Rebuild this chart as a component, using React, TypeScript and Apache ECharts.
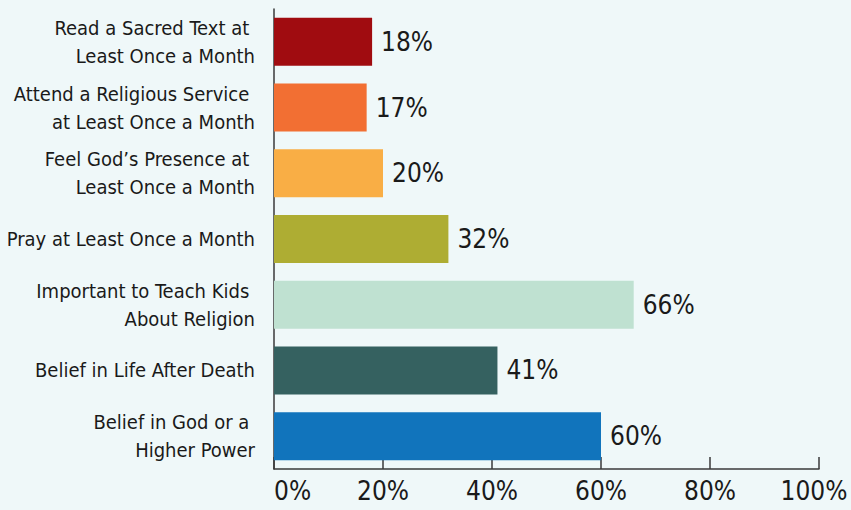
import React, { useEffect, useRef } from "react";
import * as echarts from "echarts";

const categories = [
  "Belief in God or a \nHigher Power",
  "Belief in Life After Death",
  "Important to Teach Kids \nAbout Religion",
  "Pray at Least Once a Month",
  "Feel God’s Presence at \nLeast Once a Month",
  "Attend a Religious Service \nat Least Once a Month",
  "Read a Sacred Text at \nLeast Once a Month",
];
const values = [60, 41, 66, 32, 20, 17, 18];
const barColors = ["#1174bc", "#356160", "#bfe1d1", "#aead33", "#f9ae45", "#f26f33", "#a00c10"];
const xTicks = [0, 20, 40, 60, 80, 100];

const FONT = "'DejaVu Sans Condensed', 'DejaVu Sans', sans-serif";

export default function App() {
  const ref = useRef<HTMLDivElement>(null);
  useEffect(() => {
    const st = document.createElement("style");
    st.textContent = "#root svg text { font-stretch: condensed !important; }";
    document.head.appendChild(st);
    if (!ref.current) return;
    const chart = echarts.init(ref.current, null, { renderer: "svg" });
    const maxTick = xTicks[xTicks.length - 1];
    chart.setOption({
      animation: false,
      backgroundColor: "#eff8f9",
      textStyle: { fontFamily: FONT },
      grid: { left: 274, right: 32, top: 9, bottom: 41, containLabel: false, outerBoundsMode: "none" },
      xAxis: {
        type: "value",
        min: xTicks[0],
        max: maxTick,
        interval: 20,
        splitLine: { show: false },
        axisLine: { show: true, lineStyle: { color: "#3a3a3a", width: 1.5 } },
        axisTick: { show: true, inside: true, length: 12, lineStyle: { color: "#3a3a3a", width: 1.5 } },
        axisLabel: {
          formatter: (v: number) => (v === maxTick ? `{last|${v}%}` : `${v}%`),
          fontFamily: FONT,
          fontSize: 26,
          color: "#1a1a1a",
          margin: 9,
          alignMinLabel: "left",
          rich: {
            last: { fontFamily: FONT, fontSize: 26, color: "#1a1a1a", padding: [0, 10, 0, 0] },
          },
        },
      },
      yAxis: {
        type: "category",
        data: categories,
        axisLine: { show: true, lineStyle: { color: "#3a3a3a", width: 1.5 } },
        axisTick: { show: false },
        axisLabel: {
          fontFamily: FONT,
          fontSize: 20,
          lineHeight: 28,
          color: "#1a1a1a",
          margin: 19,
          align: "right",
        },
      },
      series: [
        {
          type: "bar",
          data: values.map((v, i) => ({ value: v, itemStyle: { color: barColors[i] } })),
          barCategoryGap: "27%",
          label: {
            show: true,
            position: "right",
            distance: 9,
            formatter: "{c}%",
            fontFamily: FONT,
            fontSize: 26,
            color: "#1a1a1a",
          },
        },
      ],
    });
    return () => {
      chart.dispose();
      st.remove();
    };
  }, []);
  return <div ref={ref} style={{ width: 851, height: 510, position: "absolute", left: 0, top: 0 }} />;
}
